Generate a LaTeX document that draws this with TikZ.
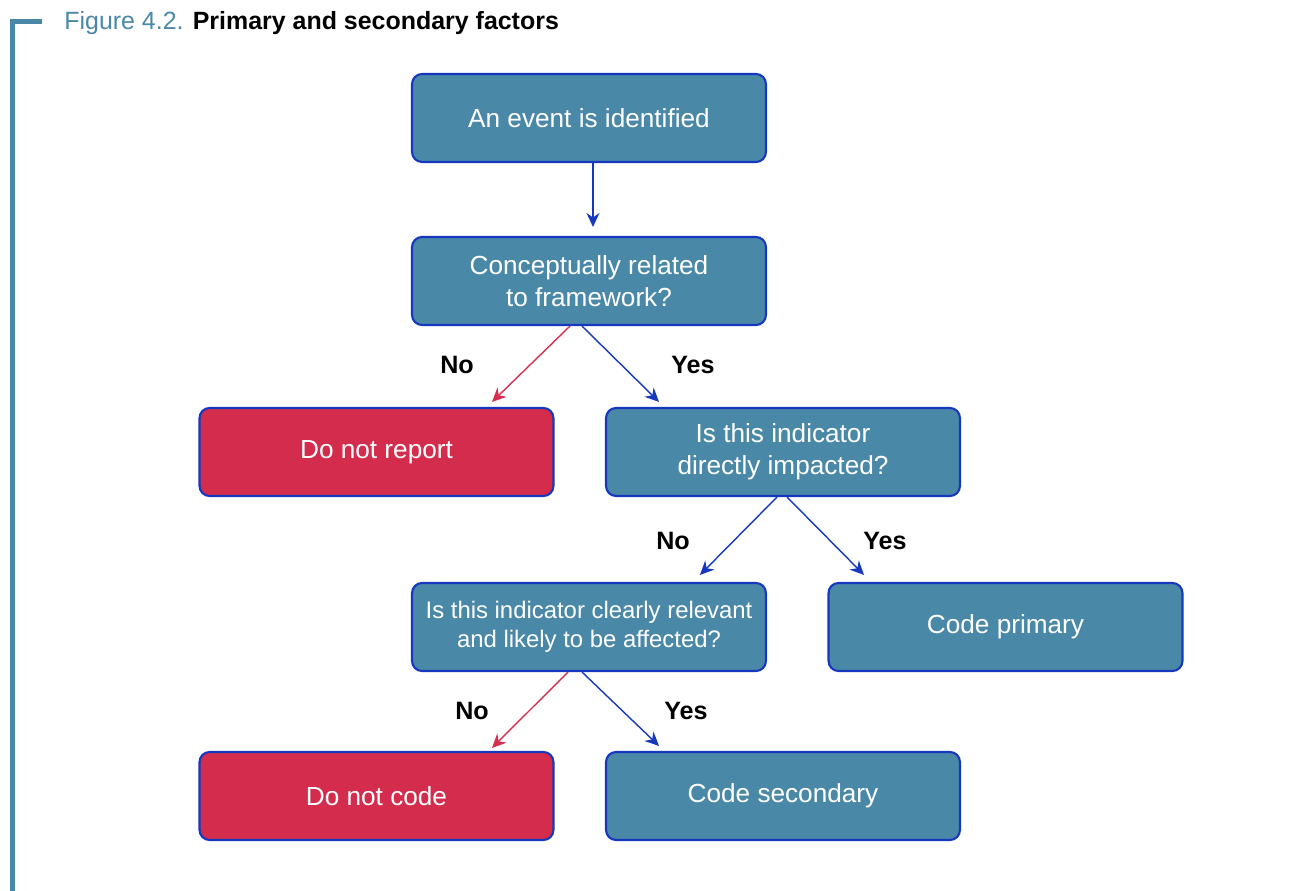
\documentclass[tikz,border=0pt]{standalone}
\usepackage{fontspec}
\setmainfont{Liberation Sans}
\usetikzlibrary{arrows.meta,positioning}
\definecolor{boxteal}{RGB}{74,136,168}
\definecolor{boxred}{RGB}{212,44,76}
\definecolor{edgeblue}{RGB}{22,56,190}
\definecolor{arrowred}{RGB}{214,48,80}
\tikzset{
    box/.style={draw=edgeblue,line width=1.2pt,fill=boxteal,rounded corners=0.2cm,
        minimum width=7.08cm,minimum height=1.76cm,align=center,text=white,
        font=\fontsize{14.9}{18.2}\selectfont},
    box red/.style={box,fill=boxred},
    box small/.style={box,font=\fontsize{13.6}{16.5}\selectfont},
    arrow yes/.style={draw=edgeblue,line width=0.8pt,-{Stealth[length=0.28cm,width=0.26cm]}},
    arrow no/.style={arrow yes,draw=arrowred},
    answer/.style={font=\bfseries\fontsize{14.3}{16}\selectfont,text=black}
}

\begin{document}
\begin{tikzpicture}[x=0.02cm,y=-0.02cm]
    \useasboundingbox (0,0) rectangle (1305,891);
    % frame and caption
    \draw[boxteal,line width=0.1cm] (12.5,891) -- (12.5,21.5) -- (42,21.5);
    \node[anchor=base west,inner sep=0pt,font=\fontsize{14.2}{16}\selectfont] (title) at (64,30)
        {\textcolor{boxteal}{Figure 4.2.} \textbf{Primary and secondary factors}};

    \node[box] (event) at (589,118) {An event is identified};
    \node[box] (related) at (589,281) {Conceptually related\\to framework?};
    \node[box red] (report) at (376.5,452) {Do not report};
    \node[box] (direct) at (783,452) {Is this indicator\\directly impacted?};
    \node[box small] (relevant) at (589,627) {Is this indicator clearly relevant\\and likely to be affected?};
    \node[box] (primary) at (1005.5,627) {Code primary};
    \node[box red] (nocode) at (376.5,796) {Do not code};
    \node[box] (secondary) at (783,796) {Code secondary};

    \draw[arrow yes] ([xshift=0.08cm]event.south) -- ([xshift=0.08cm,yshift=0.18cm]related.north);
    \draw[arrow no] ([xshift=-0.38cm]related.south) -- ([xshift=2.31cm,yshift=0.1cm]report.north);
    \draw[arrow yes] ([xshift=-0.14cm]related.south) -- ([xshift=-2.48cm,yshift=0.1cm]direct.north);
    \draw[arrow yes] ([xshift=-0.12cm]direct.south) -- ([xshift=2.22cm,yshift=0.14cm]relevant.north);
    \draw[arrow yes] ([xshift=0.08cm]direct.south) -- ([xshift=-2.83cm,yshift=0.14cm]primary.north);
    \draw[arrow no] ([xshift=-0.42cm]relevant.south) -- ([xshift=2.31cm,yshift=0.06cm]nocode.north);
    \draw[arrow yes] ([xshift=-0.14cm]relevant.south) -- ([xshift=-2.48cm,yshift=0.1cm]secondary.north);

    \node[answer] (no1) at (457,365) {No};
    \node[answer] (yes1) at (693,365) {Yes};
    \node[answer] (no2) at (673,541) {No};
    \node[answer] (yes2) at (885,541) {Yes};
    \node[answer] (no3) at (472,711) {No};
    \node[answer] (yes3) at (686,711) {Yes};
\end{tikzpicture}
\end{document}
